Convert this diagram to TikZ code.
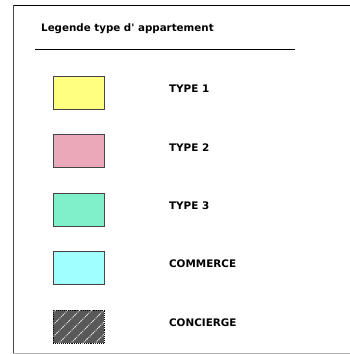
\documentclass[tikz,border=0pt]{standalone}
\usepackage{fontspec}
\setmainfont{DejaVu Sans}
\usepackage{xcolor}
\definecolor{jaunetype}{RGB}{255, 255, 128}
\definecolor{rosetype}{RGB}{234, 168, 184}
\definecolor{verttype}{RGB}{128, 240, 202}
\definecolor{cyancommerce}{RGB}{160, 255, 255}
\definecolor{grisbord}{RGB}{70, 70, 70}
\usetikzlibrary{positioning, patterns.meta}

\begin{document}
\begin{tikzpicture}[
  x=1pt, y=-1pt,
  node distance=24.5pt and 64pt,
  swatch/.style={rectangle, draw=grisbord, line width=0.9pt, minimum width=51pt, minimum height=33pt, inner sep=0pt},
  legtext/.style={font=\bfseries\fontsize{10.4}{12}\selectfont, inner sep=0pt, anchor=west, yshift=4pt}
]
\useasboundingbox (0,0) rectangle (350,354);
% cadre
\draw[black, line width=1pt] (13,5) -- (350,5);
\draw[grisbord, line width=1pt] (13,5) -- (13,353);
\draw[gray!60, line width=1pt] (13,353) -- (350,353);
% titre
\node[font=\bfseries\fontsize{10.3}{12}\selectfont, anchor=base west, inner sep=0pt] (titre) at (41,31) {Legende type d\textquotesingle{} appartement};
\draw[black, line width=0.8pt] (35,49) -- (295,49);
% cases
\node[swatch, fill=jaunetype, anchor=north west] (sw1) at (53,76) {};
\node[swatch, fill=rosetype, below=of sw1] (sw2) {};
\node[swatch, fill=verttype, below=of sw2] (sw3) {};
\node[swatch, fill=cyancommerce, below=of sw3] (sw4) {};
\node[swatch, draw=black, densely dotted, fill=gray!70!black,
  postaction={pattern={Lines[angle=45, distance=8.5pt, line width=0.9pt]}, pattern color=white!85!gray},
  below=of sw4] (sw5) {};
% libelles
\node[legtext, right=of sw1] (lab1) {TYPE 1};
\node[legtext, right=of sw2] (lab2) {TYPE 2};
\node[legtext, right=of sw3] (lab3) {TYPE 3};
\node[legtext, right=of sw4] (lab4) {COMMERCE};
\node[legtext, right=of sw5] (lab5) {CONCIERGE};
\end{tikzpicture}
\end{document}
